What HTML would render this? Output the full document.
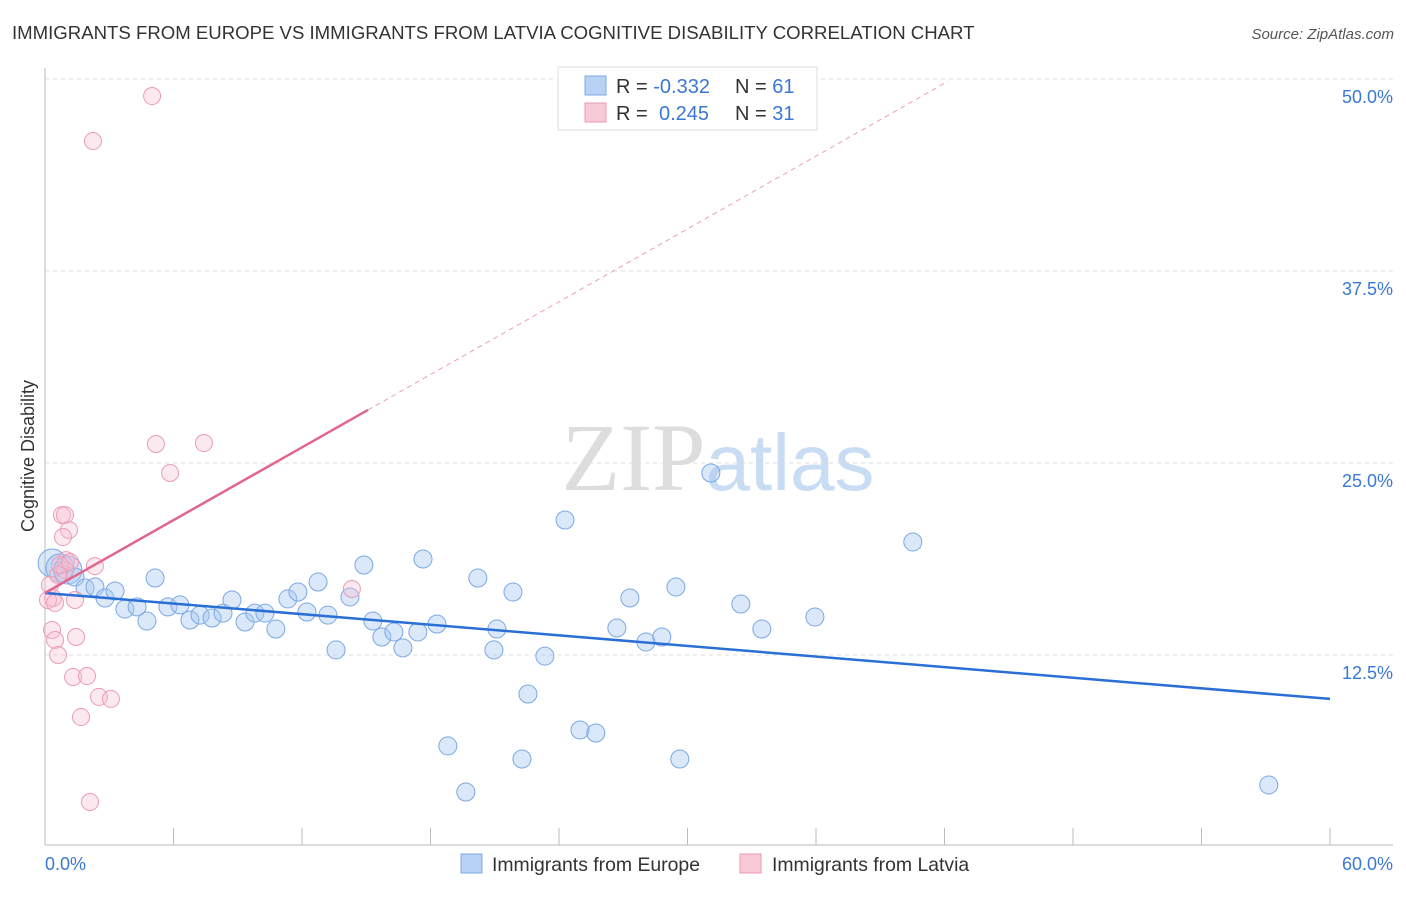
<!DOCTYPE html>
<html><head><meta charset="utf-8"><style>
body{margin:0;background:#fff;font-family:"Liberation Sans",sans-serif;}
</style></head><body>
<svg id="chart" width="1406" height="892" xmlns="http://www.w3.org/2000/svg" font-family="Liberation Sans, sans-serif">
<text x="12" y="39" font-size="18.6" fill="#333">IMMIGRANTS FROM EUROPE VS IMMIGRANTS FROM LATVIA COGNITIVE DISABILITY CORRELATION CHART</text>
<text x="1394" y="39" font-size="15" fill="#555" text-anchor="end" font-style="italic">Source: ZipAtlas.com</text>
<text x="718" y="490" font-size="96" text-anchor="middle" fill="#ddd" font-family="Liberation Serif, serif">ZIP<tspan fill="#c8dcf3" font-family="Liberation Sans, sans-serif" font-size="80">atlas</tspan></text>
<g id="grid"></g><g id="axes"></g><g id="marks"></g>
<text transform="translate(34,456) rotate(-90)" font-size="18" fill="#333" text-anchor="middle">Cognitive Disability</text>
<g>
<rect x="558" y="67" width="259" height="63" fill="#fff" stroke="#ddd"/>
<rect x="585" y="76" width="21" height="19" fill="#b8d2f5" stroke="#7eaae6"/>
<rect x="585" y="103" width="21" height="19" fill="#f8c9d6" stroke="#ec9ab3"/>
<text x="616" y="93" font-size="20" fill="#333">R = <tspan fill="#3a78d4">-0.332</tspan><tspan x="735">N = </tspan><tspan fill="#3a78d4">61</tspan></text>
<text x="616" y="120" font-size="20" fill="#333">R = <tspan x="659" fill="#3a78d4">0.245</tspan><tspan x="735">N = </tspan><tspan fill="#3a78d4">31</tspan></text>
</g>
<g>
<rect x="461" y="854" width="21" height="19" fill="#b8d2f5" stroke="#7eaae6"/>
<text x="492" y="871" font-size="19.4" fill="#333">Immigrants from Europe</text>
<rect x="740" y="854" width="21" height="19" fill="#f8c9d6" stroke="#ec9ab3"/>
<text x="772" y="871" font-size="19.4" fill="#333">Immigrants from Latvia</text>
</g>
</svg>
<script>
const yTicks=[12.5,25,37.5,50];
const yTickLabels=["12.5%","25.0%","37.5%","50.0%"];
const xTickCount=10;
const xLabels=["0.0%","60.0%"];
const europeX=[0.33,0.70,1.07,1.40,1.87,2.33,2.80,3.27,3.73,4.30,4.76,5.14,5.74,6.30,6.77,7.24,7.80,8.31,8.73,9.34,9.80,10.27,10.78,11.34,11.81,12.23,12.75,13.21,13.59,14.24,14.89,15.31,15.73,16.29,16.71,17.41,17.65,18.30,18.81,19.65,20.21,20.96,21.10,21.85,22.27,22.55,23.34,24.28,24.98,25.72,26.70,27.31,28.06,28.80,29.46,29.64,31.09,32.49,33.47,35.95,40.52,57.14];
const europeY=[18.49,18.16,18.03,17.58,16.86,16.93,16.21,16.67,15.49,15.63,14.71,17.51,15.63,15.76,14.78,15.10,14.91,15.23,16.08,14.65,15.23,15.23,14.19,16.15,16.60,15.30,17.25,15.10,12.83,16.28,18.36,14.71,13.67,14.00,12.96,14.00,18.75,14.52,6.58,3.58,17.51,12.83,14.19,16.60,5.73,9.96,12.43,21.29,7.62,7.42,14.26,16.21,13.35,13.67,16.93,5.73,24.35,15.82,14.19,14.97,19.86,4.04];
const latviaX=[5.00,2.24,5.18,7.42,5.84,0.79,0.93,1.12,0.84,0.98,0.93,2.33,0.61,0.23,0.37,0.14,0.47,1.40,0.33,0.47,1.45,0.61,1.31,1.96,2.52,3.08,1.68,2.10,14.33,0.70,1.17];
const latviaY=[48.89,45.96,26.24,26.30,24.35,21.61,21.61,20.64,20.18,18.68,18.03,18.29,17.71,17.06,16.21,16.08,15.89,16.08,14.13,13.48,13.67,12.50,11.07,11.13,9.77,9.64,8.46,2.93,16.80,18.36,18.55];
const europeTrend=[16.54,9.64];
const latviaTrend=[16.54,0.79];
const X0=45,X1=1330,Y0=847;
const sx=v=>X0+v*(X1-X0)/60;
const sy=v=>Y0-v*15.36;
const NS="http://www.w3.org/2000/svg";
function mk(tag,attrs,parent){const e=document.createElementNS(NS,tag);for(const k in attrs)e.setAttribute(k,attrs[k]);parent.appendChild(e);return e;}
const grid=document.getElementById('grid'),axes=document.getElementById('axes'),marks=document.getElementById('marks');
yTicks.forEach((t,i)=>{
 const l=mk('line',{x1:45,x2:1393,y1:sy(t),y2:sy(t),stroke:'#ddd','stroke-dasharray':'4,4'},grid);
 
 
 const tx=mk('text',{x:1393,y:sy(t)+24,'font-size':18,fill:'#3a78d4','text-anchor':'end'},axes);
 tx.textContent=yTickLabels[i];
 
 
});
const ax=mk('line',{x1:45,x2:1393,y1:845,y2:845,stroke:'#bbb'},axes);


const ay=mk('line',{x1:45,x2:45,y1:68,y2:845,stroke:'#bbb'},axes);


for(let i=0;i<=xTickCount;i++){
 const x=sx(i*60/xTickCount);
 const t=mk('line',{x1:x,x2:x,y1:828,y2:845,stroke:'#bbb'},axes);
 
 
}
const xl0=mk('text',{x:45,y:870,'font-size':18,fill:'#3a78d4'},axes);xl0.textContent=xLabels[0];


const xl1=mk('text',{x:1393,y:870,'font-size':18,fill:'#3a78d4','text-anchor':'end'},axes);xl1.textContent=xLabels[1];


europeX.forEach((v,i)=>{
 const r=(v<1.2)?14:9;
 const c=mk('circle',{cx:sx(v),cy:sy(europeY[i]),r:r,fill:'rgba(165,198,240,0.4)',stroke:'#7aa8e4','stroke-width':1},marks);
 
 
});
latviaX.forEach((v,i)=>{
 const c=mk('circle',{cx:sx(v),cy:sy(latviaY[i]),r:8.5,fill:'rgba(247,190,208,0.35)',stroke:'#eb9cb5','stroke-width':1},marks);
 
 
});
const bt=mk('line',{x1:sx(0),y1:sy(europeTrend[0]),x2:sx(60),y2:sy(europeTrend[1]),stroke:'#2a6fd6','stroke-width':2.5},marks);


const lt=v=>latviaTrend[0]+latviaTrend[1]*v;
const pt=mk('line',{x1:sx(0),y1:sy(lt(0)),x2:sx(15.08),y2:sy(lt(15.08)),stroke:'#e06690','stroke-width':2.5},marks);


const pd=mk('line',{x1:sx(15.08),y1:sy(lt(15.08)),x2:sx(42.16),y2:sy(lt(42.16)),stroke:'#eaa0b8','stroke-width':1,'stroke-dasharray':'5,4'},marks);


</script>
</body></html>
